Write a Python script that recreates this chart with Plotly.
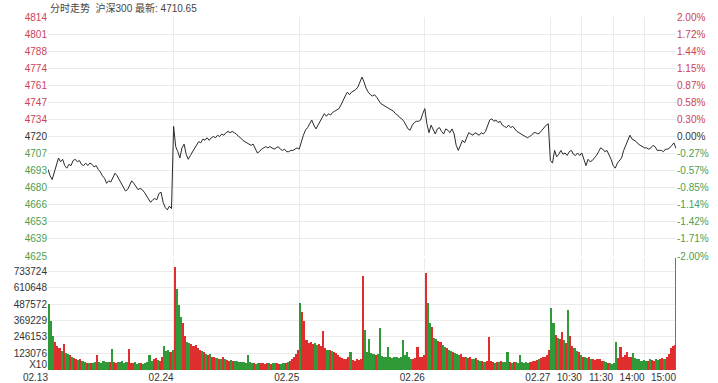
import plotly.graph_objects as go
import numpy as np

# ---------------- data ----------------
prev_close = 4720.0

day1_price = [4694,4689,4686,4692,4699,4703,4700,4702,4697,4695,4698,4697,4701,4702,4700,4701,4698,4697,4699,4697,
              4699,4698,4696,4697,4694,4692,4689,4687,4683,4685,4684,4688,4691,4689,4686,4684,4681,4677,4678,4681,
              4685,4683,4680,4678,4679,4678,4676,4673,4670,4668,4670,4671,4670,4675,4676,4668,4664,4662,4665,4663]
day2_price = [4728,4712,4708,4703,4711,4714,4706,4702,4705,4708,4711,4714,4716,4715,4718,4717,4719,4717,4719,4720,
              4719,4721,4720,4722,4721,4723,4724,4723,4724,4723,4722,4720,4719,4717,4716,4715,4714,4713,4714,4710,
              4707,4708,4710,4711,4712,4711,4712,4711,4710,4711,4712,4710,4709,4710,4708,4708,4709,4709,4710,4711]
day3_price = [4710,4716,4721,4725,4727,4730,4733,4729,4726,4729,4732,4735,4738,4736,4738,4737,4739,4740,4741,4742,
              4745,4749,4752,4755,4753,4755,4756,4757,4759,4763,4767,4763,4758,4755,4753,4752,4753,4751,4748,4746,
              4745,4744,4743,4742,4741,4740,4738,4737,4735,4734,4732,4729,4726,4725,4729,4731,4732,4732,4733,4738]
day4_price = [4742,4730,4723,4729,4725,4722,4726,4727,4724,4722,4726,4725,4723,4726,4722,4713,4709,4713,4717,4715,
              4719,4723,4722,4721,4723,4722,4721,4723,4722,4724,4729,4733,4734,4732,4733,4731,4732,4729,4728,4727,
              4729,4727,4728,4726,4724,4723,4722,4721,4720,4719,4720,4721,4723,4723,4722,4723,4725,4727,4729,4730]
day5_price = [4701,4699,4709,4704,4706,4709,4706,4707,4705,4708,4709,4706,4705,4707,4705,4707,4701,4697,4702,4700,
              4701,4703,4705,4708,4711,4710,4708,4709,4706,4702,4697,4695,4699,4701,4703,4709,4713,4718,4721,4718,
              4717,4716,4714,4713,4712,4711,4711,4710,4711,4713,4712,4709,4709,4709,4708,4710,4710,4711,4713,4715]
last_price = 4710.65

# volume, thousands (one bar per 4 minutes) ; final closing bar separately
day1_vol = [490,360,250,210,175,160,140,195,125,115,110,100,90,80,75,78,70,62,55,50,
            55,50,58,110,60,55,65,58,60,62,155,60,55,62,58,65,55,60,155,55,
            50,60,48,55,50,45,52,60,110,70,85,90,75,70,95,178,140,150,130,145]
day2_vol = [760,600,480,390,345,250,210,200,190,175,185,160,150,140,130,120,110,115,100,95,
            90,85,80,95,80,75,70,72,68,65,70,60,58,62,55,110,60,55,50,48,
            52,55,50,48,52,50,47,55,52,50,48,45,52,55,60,70,80,100,120,150]
day3_vol = [500,430,360,220,200,210,190,200,185,195,180,290,165,150,145,140,130,125,110,100,
            90,85,80,95,130,75,70,78,72,80,700,300,130,230,125,120,110,115,310,105,
            100,95,170,100,90,95,100,90,100,220,110,130,95,85,80,90,170,95,100,110]
day4_vol = [720,500,350,320,240,230,215,205,185,170,160,150,140,130,125,120,110,115,100,95,
            90,100,85,80,90,75,70,65,60,70,245,65,60,55,60,58,65,62,60,130,
            60,55,62,58,55,110,60,55,58,55,60,65,70,75,85,90,100,95,110,150]
day5_vol = [460,350,260,240,230,280,220,200,445,250,180,160,140,130,110,100,95,90,100,85,
            80,75,85,80,70,65,60,55,50,45,55,205,90,170,100,110,130,100,95,125,
            90,85,80,70,75,65,70,80,75,70,80,75,85,90,80,95,120,165,175,185]
close_vol = 1200

minutes_per_bar = 4
x_tick_vals = [0, 240, 480, 720, 960, 1020, 1080, 1140, 1200]
x_tick_text = ["02.13", "02.24", "02.25", "02.26", "02.27", "10:30", "11:30", "14:00", "15:00"]

price_tick_text = ["4625", "4639", "4653", "4666", "4680", "4693", "4707", "4720",
                   "4734", "4747", "4761", "4774", "4788", "4801", "4814"]
pct_tick_text = ["-2.00%", "-1.71%", "-1.42%", "-1.14%", "-0.85%", "-0.57%", "-0.27%", "0.00%",
                 "0.30%", "0.58%", "0.87%", "1.15%", "1.44%", "1.72%", "2.00%"]
vol_tick_text = ["X10", "123076", "246153", "369229", "487572", "610648", "733724"]
vol_tick_vals = [38, 123.076, 246.153, 369.229, 487.572, 610.648, 733.724]

# ---------------- build ----------------
RED = "#e02d2d"
GREEN = "#2f9a37"
TXT_RED = "#c94459"
TXT_GREEN = "#4d9e4d"
TXT_DARK = "#333333"
GRID = "#ebebeb"

prices = day1_price + day2_price + day3_price + day4_price + day5_price
n = len(prices)
x_price = [i * minutes_per_bar for i in range(n)] + [1200]
y_price = prices + [last_price]

vols = day1_vol + day2_vol + day3_vol + day4_vol + day5_vol + [close_vol]
x_vol = [i * minutes_per_bar + minutes_per_bar / 2 for i in range(n)] + [1199.5]
w_vol = [minutes_per_bar] * n + [1.5]
vol_colors = []
for j, p in enumerate(y_price):
    prev = prev_close if j == 0 else y_price[j - 1]
    vol_colors.append(RED if p >= prev else GREEN)

lo, hi = prev_close * 0.98, prev_close * 1.02
price_tick_vals = list(np.linspace(lo, hi, len(price_tick_text)))


def colored(texts, mid):
    out = []
    for k, t in enumerate(texts):
        c = TXT_GREEN if k < mid else (TXT_DARK if k == mid else TXT_RED)
        out.append('<span style="color:%s">%s</span>' % (c, t))
    return out


fig = go.Figure()
fig.add_trace(go.Scatter(x=x_price, y=y_price, mode="lines",
                         line=dict(color="#2a2a2a", width=1), xaxis="x", yaxis="y",
                         hoverinfo="skip", showlegend=False))
fig.add_trace(go.Scatter(x=x_price, y=y_price, mode="none", xaxis="x", yaxis="y3",
                         hoverinfo="skip", showlegend=False))
fig.add_trace(go.Bar(x=x_vol, y=vols, width=w_vol, marker=dict(color=vol_colors, line=dict(width=0)),
                     xaxis="x2", yaxis="y2", hoverinfo="skip", showlegend=False))

H = 383
mt, mb = 17, 13
ph = H - mt - mb
price_bottom_px = 256
vol_top_px = 258
dom_price = [(H - mb - price_bottom_px) / ph, 1.0]
dom_vol = [0.0, (H - mb - vol_top_px) / ph]
vol_max = (H - mb - vol_top_px) * (733.724 / 99.0)

font = dict(family="Liberation Sans, Arial, Noto Sans CJK SC, sans-serif", size=10, color=TXT_DARK)

fig.update_layout(
    width=718, height=H,
    margin=dict(l=48, r=42, t=mt, b=mb, autoexpand=False),
    paper_bgcolor="white", plot_bgcolor="white",
    font=font,
    bargap=0,
    xaxis=dict(domain=[0, 1], range=[0, 1200], anchor="y", tickvals=x_tick_vals[1:-1],
               showticklabels=False, showgrid=True, gridcolor=GRID, gridwidth=1,
               zeroline=False, showline=False, ticks="", automargin=False),
    yaxis=dict(domain=dom_price, range=[lo, hi], tickvals=price_tick_vals,
               ticktext=colored(price_tick_text, 7), showgrid=True, gridcolor=GRID,
               zeroline=False, showline=False, ticks="", tickfont=dict(size=10), automargin=False),
    yaxis3=dict(overlaying="y", side="right", range=[lo, hi], tickvals=price_tick_vals,
                ticktext=colored(pct_tick_text, 7), showgrid=False, zeroline=False,
                showline=False, ticks="", tickfont=dict(size=10), anchor="x", automargin=False),
    xaxis2=dict(domain=[0, 1], range=[0, 1200], anchor="y2", tickvals=x_tick_vals,
                ticktext=x_tick_text, ticklabelposition="outside left", tickangle=0,
                showgrid=True, gridcolor=GRID, zeroline=False, showline=False,
                ticks="", tickfont=dict(size=10, color=TXT_DARK), automargin=False),
    yaxis2=dict(domain=dom_vol, range=[0, vol_max],
                tickvals=vol_tick_vals,
                ticktext=vol_tick_text, showgrid=True, gridcolor=GRID, zeroline=False,
                showline=False, ticks="", tickfont=dict(size=10, color=TXT_DARK), automargin=False),
)

fig.add_annotation(xref="paper", yref="paper", x=0, y=1, xanchor="left", yanchor="bottom",
                   yshift=1, showarrow=False,
                   text="分时走势  沪深300 最新: %.2f" % last_price,
                   font=dict(size=10, color="#444444",
                             family="Liberation Sans, Noto Sans CJK SC, sans-serif"))

fig.write_html("out.html")
